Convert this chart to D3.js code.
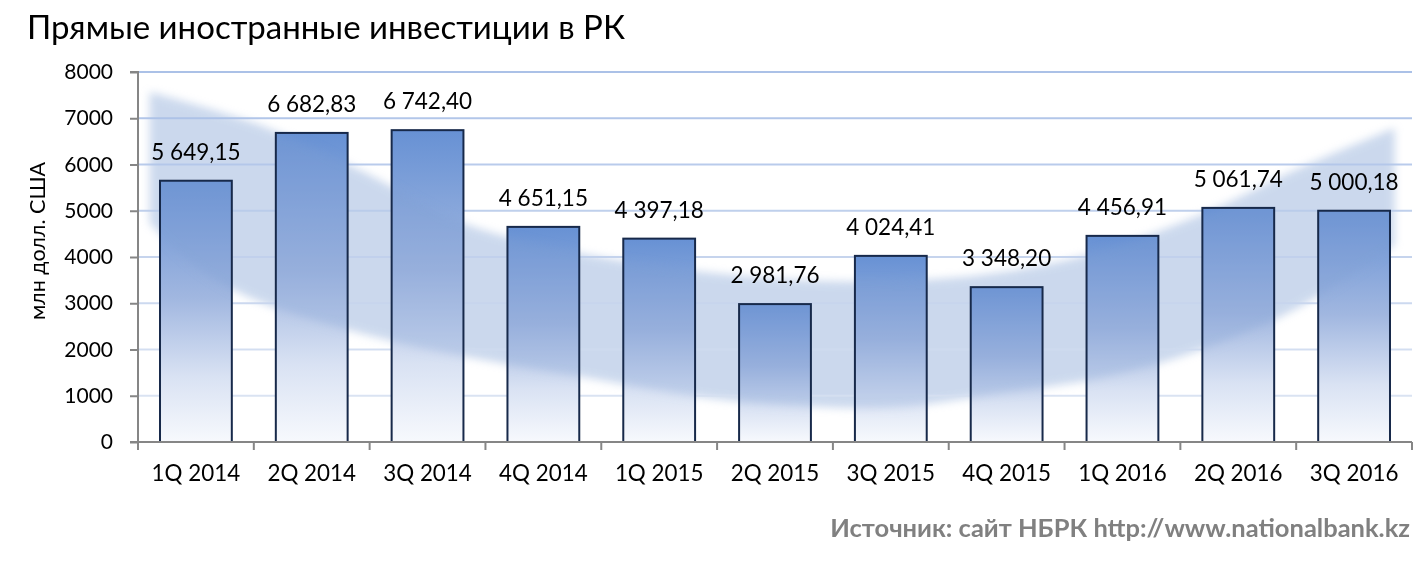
<!DOCTYPE html>
<html><head><meta charset="utf-8">
<script src="https://cdn.jsdelivr.net/npm/d3@7"></script>
<style>
html,body{margin:0;padding:0;background:#fff;}
svg{display:block;}
text{font-family:Lato,"Open Sans",sans-serif;}
</style></head>
<body><svg id="c" width="1428" height="567"></svg>
<script>
const categories = ["1Q 2014","2Q 2014","3Q 2014","4Q 2014","1Q 2015","2Q 2015","3Q 2015","4Q 2015","1Q 2016","2Q 2016","3Q 2016"];
const values = [5649.15, 6682.83, 6742.40, 4651.15, 4397.18, 2981.76, 4024.41, 3348.20, 4456.91, 5061.74, 5000.18];
const yTicks = [0,1000,2000,3000,4000,5000,6000,7000,8000];
const title = "Прямые иностранные инвестиции в РК";
const yTitle = "млн долл. США";
const source = "Источник: сайт НБРК http://www.nationalbank.kz";
// decorative swoosh outline, in (category-position, value) units
const swooshTop = [[0.10,7568],[1.05,6854],[2.0,5773],[2.78,4757],[3.99,4000],[5.72,3503],[7.01,3546],[8.13,4000],[9.17,4908],[10.03,5924],[10.85,6789]];
const swooshBottom = [[0.10,4735],[0.54,3719],[1.08,3005],[2.26,2141],[3.13,1708],[3.99,1341],[4.85,973],[5.72,778],[6.58,757],[7.44,1059],[8.31,1384],[9.17,1989],[10.03,2919],[10.85,4259]];

const svg = d3.select("#c");
const m = {l:138, r:1412, t:72, b:442};
const x = d3.scaleBand().domain(categories).range([m.l, m.r]).paddingInner(0.38).paddingOuter(0.19);
const xPos = d3.scaleLinear().domain([0, categories.length]).range([m.l, m.r]);
const y = d3.scaleLinear().domain([0,8000]).range([m.b, m.t]);
const fmt = d3.formatLocale({decimal:",", thousands:"\u00a0", grouping:[3], currency:["",""]}).format(",.2f");

const defs = svg.append("defs");
const g1 = defs.append("linearGradient").attr("id","barGrad").attr("x1",0).attr("y1",0).attr("x2",0).attr("y2",1);
[["0%","#6791d4"],["45%","#a1b7e0"],["75%","#d9e2f3"],["100%","#f7f9fd"]].forEach(s=>
  g1.append("stop").attr("offset",s[0]).attr("stop-color",s[1]));
defs.append("filter").attr("id","blur").attr("x","-5%").attr("y","-5%").attr("width","110%").attr("height","110%")
  .append("feGaussianBlur").attr("stdDeviation",4);
const clip = defs.append("clipPath").attr("id","barClip");
clip.selectAll("rect").data(values).join("rect")
  .attr("x",(d,i)=>x(categories[i])).attr("width",x.bandwidth())
  .attr("y",d=>y(d)).attr("height",d=>y(0)-y(d));

// title
svg.append("text").attr("x",27).attr("y",39).attr("font-size",33).attr("fill","#000").text(title);

// swoosh shape
const line = d3.line().x(d=>xPos(d[0])).y(d=>y(d[1])).curve(d3.curveCatmullRom);
const topPath = line(swooshTop);
const botPath = line(swooshBottom.slice().reverse());
const area = topPath + "L" + botPath.slice(1) + "Z";
svg.append("path").attr("d",area).attr("fill","#99b3dc").attr("opacity",0.5).attr("filter","url(#blur)");

// gridlines
const gc = d3.interpolateRgb("#dde5f3","#a3bbe5");
svg.append("g").selectAll("line").data(yTicks.filter(d=>d>0)).join("line")
  .attr("x1",m.l).attr("x2",m.r).attr("y1",d=>y(d)).attr("y2",d=>y(d))
  .attr("stroke",d=>gc(d/8000)).attr("stroke-width",2).attr("opacity",0.9);

// bars (fill)
svg.append("g").selectAll("rect").data(values).join("rect")
  .attr("x",(d,i)=>x(categories[i])).attr("width",x.bandwidth())
  .attr("y",d=>y(d)).attr("height",d=>y(0)-y(d))
  .attr("fill","url(#barGrad)");

// swoosh tint inside bars
svg.append("g").attr("clip-path","url(#barClip)").append("path").attr("d",area)
  .attr("fill","#7f9fd3").attr("opacity",0.3).attr("filter","url(#blur)").style("mix-blend-mode","multiply");

// bar outlines
svg.append("g").selectAll("rect").data(values).join("rect")
  .attr("x",(d,i)=>x(categories[i])).attr("width",x.bandwidth())
  .attr("y",d=>y(d)).attr("height",d=>y(0)-y(d))
  .attr("fill","none").attr("stroke","#17294a").attr("stroke-width",2);

// axes
const yAxis = d3.axisLeft(y).tickValues(yTicks).tickSize(8).tickPadding(17).tickFormat(d3.format("d"));
const ya = svg.append("g").attr("transform",`translate(${m.l},0)`).call(yAxis);
ya.select(".domain").attr("stroke","#868686").attr("stroke-width",2).attr("d",`M-8,${m.t}H0V${m.b+8}`);
ya.selectAll(".tick line").attr("stroke","#868686").attr("stroke-width",2);
ya.selectAll(".tick text").attr("font-size",21).attr("fill","#000").attr("font-family","Lato");

const xa = svg.append("g").attr("transform",`translate(0,${m.b})`);
xa.append("line").attr("x1",m.l-8).attr("x2",m.r).attr("y1",0).attr("y2",0).attr("stroke","#868686").attr("stroke-width",2);
xa.selectAll(".tk").data(d3.range(categories.length+1)).join("line").attr("class","tk")
  .attr("x1",d=>xPos(d)).attr("x2",d=>xPos(d)).attr("y1",0).attr("y2",8).attr("stroke","#868686").attr("stroke-width",2);
xa.selectAll(".lbl").data(categories).join("text").attr("class","lbl")
  .attr("x",d=>x(d)+x.bandwidth()/2).attr("y",39).attr("text-anchor","middle")
  .attr("font-size",22.4).attr("fill","#000").text(d=>d);

// value labels
svg.append("g").selectAll("text").data(values).join("text")
  .attr("x",(d,i)=>x(categories[i])+x.bandwidth()/2).attr("y",d=>y(d)-21)
  .attr("text-anchor","middle").attr("font-size",22.5).attr("fill","#000").text(d=>fmt(d));

// y title
svg.append("text").attr("transform","translate(45,241) rotate(-90)").attr("text-anchor","middle")
  .attr("font-size",21.5).attr("fill","#000").text(yTitle);

// source
svg.append("text").attr("x",1410).attr("y",537).attr("text-anchor","end").attr("font-size",25.5)
  .attr("font-weight","bold").attr("fill","#808080").text(source);
</script></body></html>
